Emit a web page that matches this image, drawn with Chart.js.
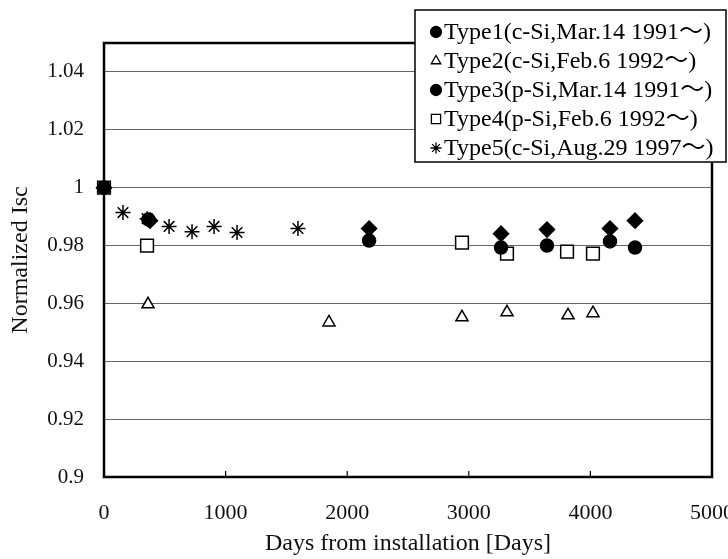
<!DOCTYPE html>
<html>
<head>
<meta charset="utf-8">
<script src="https://cdn.jsdelivr.net/npm/chart.js@4.4.1/dist/chart.umd.min.js"></script>
<style>
  html, body { margin: 0; padding: 0; background: #fff; overflow: hidden; }
  #wrap { width: 728px; height: 559px; overflow: hidden; }
  #wrap canvas { display: block; }
</style>
</head>
<body>
<div id="wrap"><canvas id="isc" width="760" height="559"></canvas></div>
<script>
// data: [days, normalized Isc]
const type1 = [[0, 1.0], [365, 0.989], [2180, 0.9817], [3265, 0.9793], [3643, 0.980], [4161, 0.9814], [4367, 0.9793]];
const type2 = [[0, 1.0], [362, 0.9597], [1850, 0.9534], [2944, 0.9552], [3314, 0.9569], [3816, 0.9559], [4021, 0.9566]];
const type3 = [[0, 1.0], [378, 0.9886], [2180, 0.9859], [3265, 0.9841], [3643, 0.9855], [4161, 0.9859], [4367, 0.9886]];
const type4 = [[0, 1.0], [354, 0.980], [2944, 0.981], [3314, 0.9772], [3808, 0.9779], [4021, 0.9772]];
const type5 = [[0, 1.0], [156, 0.9914], [354, 0.9893], [535, 0.9866], [724, 0.9848], [905, 0.9866], [1094, 0.9845], [1595, 0.9859]];

const legendLabels = [
  "Type1(c-Si,Mar.14 1991～)",
  "Type2(c-Si,Feb.6 1992～)",
  "Type3(p-Si,Mar.14 1991～)",
  "Type4(p-Si,Feb.6 1992～)",
  "Type5(c-Si,Aug.29 1997～)"
];
const legendMarkers = ["circle", "triangle", "circle", "rect", "star"];
const legendFilled = [true, false, true, false, false];

const serif = "'Liberation Serif', 'Noto Sans CJK JP', serif";

const toXY = arr => arr.map(p => ({ x: p[0], y: p[1] }));

function ds(label, data, style, radius, filled) {
  return {
    label: label,
    data: toXY(data),
    pointStyle: style,
    pointRadius: radius,
    pointHoverRadius: radius,
    pointBorderWidth: 1.5,
    pointBorderColor: "#000",
    pointBackgroundColor: filled ? "#000" : "#fff",
    showLine: false,
    clip: false
  };
}

// frame, inner x ticks and the boxed legend
const extras = {
  id: "extras",
  afterDatasetsDraw(chart) {
    const ctx = chart.ctx;
    const a = chart.chartArea;
    const xs = chart.scales.x;
    ctx.save();
    ctx.strokeStyle = "#000";
    ctx.lineWidth = 1.2;
    for (let v = 1000; v < 5000; v += 1000) {
      const px = xs.getPixelForValue(v);
      ctx.beginPath();
      ctx.moveTo(px, a.bottom);
      ctx.lineTo(px, a.bottom - 6);
      ctx.stroke();
    }
    ctx.lineWidth = 2.5;
    ctx.strokeRect(a.left, a.top, a.right - a.left, a.bottom - a.top);

    // legend box
    const bx = 415, by = 10, bw = 311, bh = 152;
    ctx.fillStyle = "#fff";
    ctx.fillRect(bx, by, bw, bh);
    ctx.lineWidth = 1.5;
    ctx.strokeRect(bx, by, bw, bh);
    ctx.font = "24px " + serif;
    ctx.textBaseline = "middle";
    legendLabels.forEach((t, i) => {
      const y = by + 22 + i * 29;
      ctx.fillStyle = legendFilled[i] ? "#000" : "#fff";
      ctx.strokeStyle = "#000";
      ctx.lineWidth = 1.3;
      const r = legendMarkers[i] === "rect" ? 6.5 : 5.5;
      Chart.helpers.drawPoint(ctx, { pointStyle: legendMarkers[i], radius: r, borderWidth: 1.3 }, bx + 21, y);
      ctx.fillStyle = "#000";
      ctx.fillText(t, bx + 29, y + 1);
    });
    ctx.restore();
  }
};

new Chart(document.getElementById("isc"), {
  type: "scatter",
  data: {
    // first dataset is drawn on top
    datasets: [
      ds(legendLabels[2], type3, "rectRot", 7.5, true),
      ds(legendLabels[0], type1, "circle", 6.5, true),
      ds(legendLabels[4], type5, "star", 7.5, false),
      ds(legendLabels[3], type4, "rect", 9, false),
      ds(legendLabels[1], type2, "triangle", 7, false)
    ]
  },
  options: {
    responsive: false,
    animation: false,
    layout: { padding: { top: 43, right: 48, left: 0, bottom: 0 } },
    plugins: {
      legend: { display: false },
      tooltip: { enabled: false }
    },
    scales: {
      x: {
        type: "linear",
        min: 0,
        max: 5000,
        border: { display: false },
        grid: { display: false },
        ticks: {
          stepSize: 1000,
          padding: 15,
          color: "#111",
          font: { family: serif, size: 22 },
          maxRotation: 0,
          callback: v => String(v)
        },
        title: {
          display: true,
          text: "Days from installation [Days]",
          color: "#111",
          font: { family: serif, size: 24 },
          padding: { top: 0, bottom: 1 }
        },
        afterFit(scale) { scale.height = 82; }
      },
      y: {
        type: "linear",
        min: 0.9,
        max: 1.05,
        border: { display: false },
        grid: { color: "#666", lineWidth: 1, drawTicks: false },
        ticks: {
          stepSize: 0.02,
          padding: 20,
          color: "#111",
          font: { family: serif, size: 21 },
          callback: v => String(+v.toFixed(2))
        },
        afterBuildTicks(scale) {
          scale.ticks = scale.ticks.filter(t => t.value < 1.045);
        },
        title: {
          display: true,
          text: "Normalized Isc",
          color: "#111",
          font: { family: serif, size: 24 },
          padding: { top: 6, bottom: 0 }
        },
        afterFit(scale) { scale.width = 104; }
      }
    }
  },
  plugins: [extras]
});
</script>
</body>
</html>
